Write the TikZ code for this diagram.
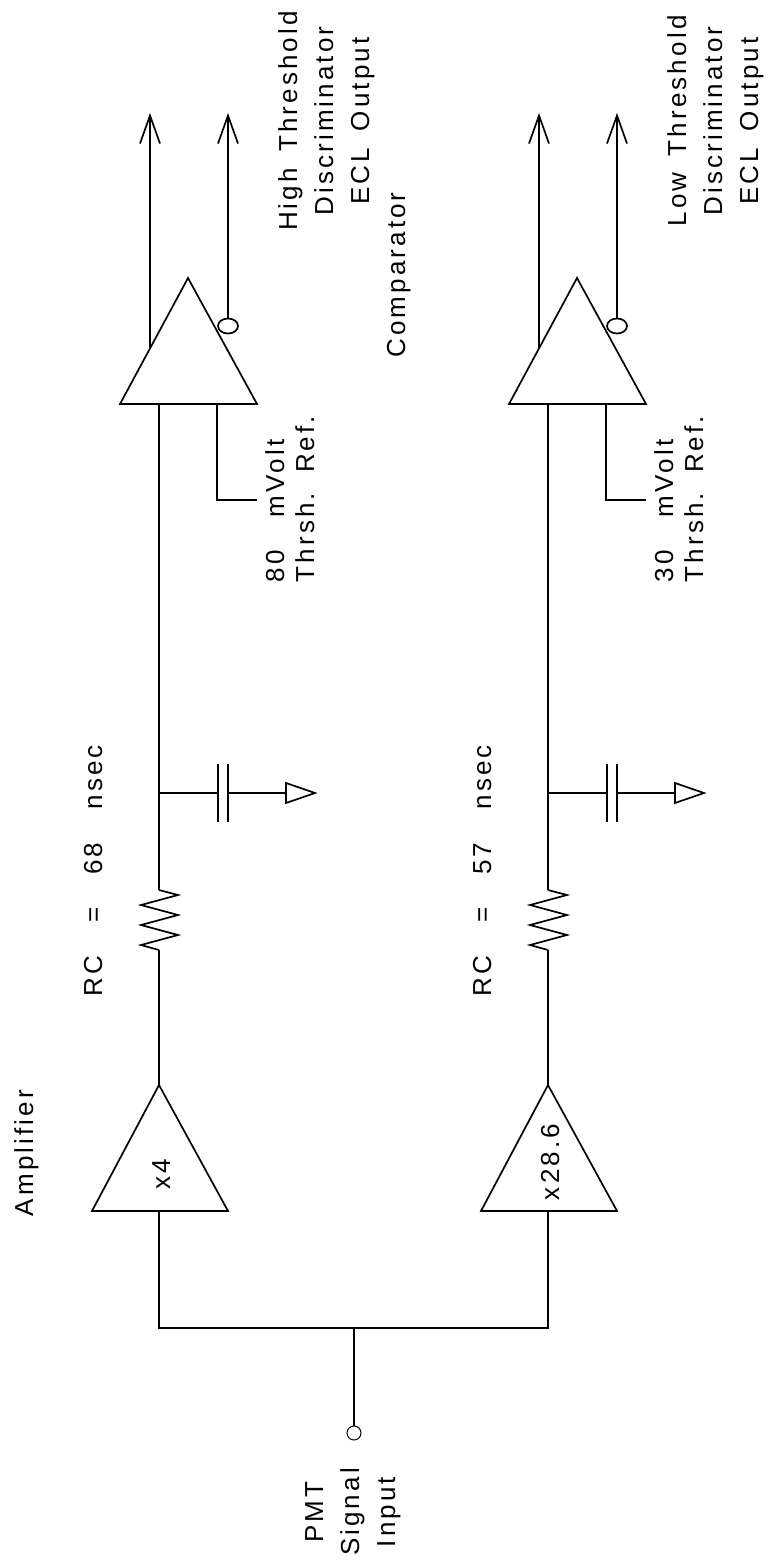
\documentclass[tikz,border=0pt]{standalone}
\usepackage{fontspec}
\newfontfamily\cadfont[LetterSpace=12,WordSpace=1.6]{Liberation Sans}
\usetikzlibrary{arrows.meta,shapes.geometric}
\tikzset{
	wire/.style={line width=1.7pt, line join=miter},
	outarrow/.style={wire, -{Straight Barb[length=28pt,width=20pt]}},
	txt/.style={font=\cadfont\fontsize{26}{36}\selectfont, inner sep=0pt, rotate=90}
}
\begin{document}
\begin{tikzpicture}[x=1pt, y=-1pt]
	\useasboundingbox (0,0) rectangle (769,1564);

	\node[txt, align=center, anchor=north] (pmt) at (305,1512) {PMT\\Signal\\Input};
	\node[draw, circle, line width=1pt, minimum size=14pt, inner sep=0pt] (in) at (354,1433) {};
	\coordinate (split) at (354,1328);
	\draw[wire] (in) -- (split);

	\node[txt, anchor=base] (ampname) at (33,1153) {Amplifier};
	\node[txt, anchor=base] (cmpname) at (405,275) {Comparator};

	\foreach \dx/\nm/\gain/\gy/\rc/\thr/\lev in {0/hi/x4/1174/68/80/High, 389/lo/x28.6/1162/57/30/Low}{
		\begin{scope}[xshift=\dx pt]
			% amplifier
			\coordinate (amptip-\nm) at (159,1085);
			\coordinate (ampin-\nm) at (159,1211);
			\draw[wire] (92,1211) -- (amptip-\nm) -- (228,1211) -- cycle;
			\node[txt, anchor=base] (gain-\nm) at (170,\gy) {\gain};
			% RC filter
			\coordinate (rtop-\nm) at (159,890);
			\coordinate (rbot-\nm) at (159,950);
			\coordinate (tap-\nm) at (159,793);
			\draw[wire] (amptip-\nm) -- (rbot-\nm);
			\draw[wire] (rtop-\nm) -- ++(19,5) -- ++(-37,10) -- ++(37,10) -- ++(-37,10)
				-- ++(37,10) -- ++(-37,10) -- (rbot-\nm);
			\node[txt, anchor=base east] (rc-\nm) at (102,745) {RC\ \ =\ \ \rc\ \ nsec};
			\coordinate (capa-\nm) at (218,793);
			\coordinate (capb-\nm) at (228,793);
			\coordinate (gnd-\nm) at (286,793);
			\draw[wire] (tap-\nm) -- (capa-\nm);
			\draw[line width=2pt] (218,764) -- (218,822) (228,764) -- (228,822);
			\draw[wire] (capb-\nm) -- (gnd-\nm);
			\draw[wire] (286,783) -- (315,793) -- (286,803) -- cycle;
			% comparator
			\coordinate (cmpin-\nm) at (159,404);
			\coordinate (cmpref-\nm) at (217,404);
			\coordinate (refend-\nm) at (257,500);
			\draw[wire] (120,404) -- (188,278) -- (257,404) -- cycle;
			\draw[wire] (rtop-\nm) -- (cmpin-\nm);
			\draw[wire] (cmpref-\nm) |- (refend-\nm);
			\node[txt, align=left, anchor=north, font=\cadfont\fontsize{26}{30}\selectfont]
				(thr-\nm) at (265,499) {\thr\ \ mVolt\\Thrsh. Ref.};
			\coordinate (q-\nm) at (150,348);
			\coordinate (qout-\nm) at (150,113);
			\node[draw, ellipse, wire, minimum width=20pt, minimum height=15pt, inner sep=0pt] (nq-\nm) at (228,326) {};
			\coordinate (nqout-\nm) at (228,113);
			\draw[outarrow] (q-\nm) -- (qout-\nm);
			\draw[outarrow] (nq-\nm) -- (nqout-\nm);
			\node[txt, align=center, anchor=north] (out-\nm) at (278,121) {\lev\ Threshold\\Discriminator\\ECL Output};
		\end{scope}
	}

	\draw[wire] (ampin-hi) -- (ampin-hi |- split) -- (ampin-lo |- split) -- (ampin-lo);
\end{tikzpicture}
\end{document}
